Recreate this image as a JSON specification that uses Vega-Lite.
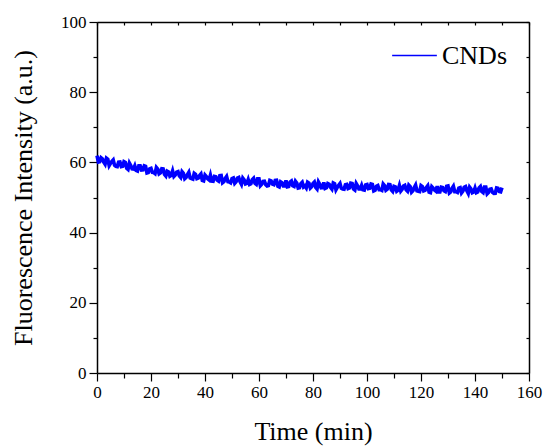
{
  "$schema": "https://vega.github.io/schema/vega-lite/v6.json",
  "width": 432,
  "height": 351,
  "autosize": "none",
  "padding": {"left": 97, "top": 22, "right": 16, "bottom": 73},
  "background": "white",
  "config": {
    "view": {"stroke": null},
    "font": "Liberation Serif"
  },
  "data": {
    "values": [
      {"t":0,"v":61.9},{"t":0.5,"v":60.1},{"t":1,"v":60.2},{"t":1.5,"v":61.3},{"t":2,"v":61.0},{"t":2.5,"v":60.1},{"t":3,"v":59.5},{"t":3.5,"v":61.2},{"t":4,"v":60.9},{"t":4.5,"v":59.1},
      {"t":5,"v":59.75},{"t":5.5,"v":60.3},{"t":6,"v":60.7},{"t":6.5,"v":59.2},{"t":7,"v":58.9},{"t":7.5,"v":58.8},{"t":8,"v":60.05},{"t":8.5,"v":60.1},{"t":9,"v":58.8},{"t":9.5,"v":58.9},
      {"t":10,"v":60.2},{"t":10.5,"v":60.0},{"t":11,"v":58.35},{"t":11.5,"v":58.0},{"t":12,"v":59.8},{"t":12.5,"v":59.1},{"t":13,"v":58.15},{"t":13.5,"v":58.1},{"t":14,"v":59.0},{"t":14.5,"v":57.7},
      {"t":15,"v":57.55},{"t":15.5,"v":59.0},{"t":16,"v":59.0},{"t":16.5,"v":57.85},{"t":17,"v":57.9},{"t":17.5,"v":59.0},{"t":18,"v":58.85},{"t":18.5,"v":57.0},{"t":19,"v":57.1},{"t":19.5,"v":58.15},
      {"t":20,"v":58.3},{"t":20.5,"v":57.15},{"t":21,"v":57.1},{"t":21.5,"v":56.8},{"t":22,"v":58.55},{"t":22.5,"v":58.1},{"t":23,"v":56.75},{"t":23.5,"v":57.0},{"t":24,"v":58.2},{"t":24.5,"v":58.15},
      {"t":25,"v":56.6},{"t":25.5,"v":56.15},{"t":26,"v":57.5},{"t":26.5,"v":57.3},{"t":27,"v":56.05},{"t":27.5,"v":56.3},{"t":28,"v":57.55},{"t":28.5,"v":56.0},{"t":29,"v":56.4},{"t":29.5,"v":57.25},
      {"t":30,"v":57.4},{"t":30.5,"v":56.15},{"t":31,"v":55.7},{"t":31.5,"v":57.35},{"t":32,"v":56.9},{"t":32.5,"v":55.35},{"t":33,"v":55.7},{"t":33.5,"v":56.55},{"t":34,"v":57.2},{"t":34.5,"v":55.55},
      {"t":35,"v":55.4},{"t":35.5,"v":55.25},{"t":36,"v":56.9},{"t":36.5,"v":56.6},{"t":37,"v":55.35},{"t":37.5,"v":55.5},{"t":38,"v":56.25},{"t":38.5,"v":56.7},{"t":39,"v":54.9},{"t":39.5,"v":54.75},
      {"t":40,"v":56.4},{"t":40.5,"v":55.95},{"t":41,"v":55.3},{"t":41.5,"v":55.0},{"t":42,"v":56.35},{"t":42.5,"v":54.7},{"t":43,"v":54.65},{"t":43.5,"v":56.0},{"t":44,"v":55.9},{"t":44.5,"v":54.95},
      {"t":45,"v":54.7},{"t":45.5,"v":56.2},{"t":46,"v":56.25},{"t":46.5,"v":54.2},{"t":47,"v":54.5},{"t":47.5,"v":55.45},{"t":48,"v":56.0},{"t":48.5,"v":54.5},{"t":49,"v":54.45},{"t":49.5,"v":54.2},
      {"t":50,"v":55.4},{"t":50.5,"v":55.55},{"t":51,"v":54.05},{"t":51.5,"v":54.5},{"t":52,"v":55.55},{"t":52.5,"v":55.7},{"t":53,"v":54.5},{"t":53.5,"v":53.75},{"t":54,"v":55.5},{"t":54.5,"v":55.0},
      {"t":55,"v":53.85},{"t":55.5,"v":54.0},{"t":56,"v":55.1},{"t":56.5,"v":53.75},{"t":57,"v":53.95},{"t":57.5,"v":55.1},{"t":58,"v":55.5},{"t":58.5,"v":54.05},{"t":59,"v":53.75},{"t":59.5,"v":55.3},
      {"t":60,"v":55.3},{"t":60.5,"v":53.35},{"t":61,"v":53.75},{"t":61.5,"v":54.6},{"t":62,"v":54.65},{"t":62.5,"v":53.65},{"t":63,"v":53.3},{"t":63.5,"v":53.4},{"t":64,"v":54.85},{"t":64.5,"v":54.7},
      {"t":65,"v":53.8},{"t":65.5,"v":53.65},{"t":66,"v":54.85},{"t":66.5,"v":54.9},{"t":67,"v":53.2},{"t":67.5,"v":53.0},{"t":68,"v":54.45},{"t":68.5,"v":54.2},{"t":69,"v":53.3},{"t":69.5,"v":53.3},
      {"t":70,"v":54.9},{"t":70.5,"v":53.05},{"t":71,"v":53.15},{"t":71.5,"v":54.4},{"t":72,"v":54.7},{"t":72.5,"v":53.35},{"t":73,"v":53.15},{"t":73.5,"v":54.6},{"t":74,"v":54.1},{"t":74.5,"v":52.7},
      {"t":75,"v":52.8},{"t":75.5,"v":53.95},{"t":76,"v":54.35},{"t":76.5,"v":53.0},{"t":77,"v":53.3},{"t":77.5,"v":52.75},{"t":78,"v":54.35},{"t":78.5,"v":54.1},{"t":79,"v":52.7},{"t":79.5,"v":53.1},
      {"t":80,"v":54.0},{"t":80.5,"v":54.4},{"t":81,"v":52.9},{"t":81.5,"v":52.45},{"t":82,"v":54.45},{"t":82.5,"v":53.75},{"t":83,"v":52.75},{"t":83.5,"v":52.8},{"t":84,"v":54.3},{"t":84.5,"v":52.6},
      {"t":85,"v":52.8},{"t":85.5,"v":53.95},{"t":86,"v":53.75},{"t":86.5,"v":52.9},{"t":87,"v":52.4},{"t":87.5,"v":54.15},{"t":88,"v":53.95},{"t":88.5,"v":52.2},{"t":89,"v":52.9},{"t":89.5,"v":53.5},
      {"t":90,"v":54.0},{"t":90.5,"v":52.6},{"t":91,"v":52.4},{"t":91.5,"v":52.35},{"t":92,"v":53.65},{"t":92.5,"v":53.75},{"t":93,"v":52.55},{"t":93.5,"v":52.7},{"t":94,"v":54.1},{"t":94.5,"v":54.0},
      {"t":95,"v":52.4},{"t":95.5,"v":52.1},{"t":96,"v":54.0},{"t":96.5,"v":53.35},{"t":97,"v":52.45},{"t":97.5,"v":52.45},{"t":98,"v":53.45},{"t":98.5,"v":52.2},{"t":99,"v":52.1},{"t":99.5,"v":53.6},
      {"t":100,"v":53.7},{"t":100.5,"v":52.55},{"t":101,"v":52.65},{"t":101.5,"v":53.85},{"t":102,"v":53.75},{"t":102.5,"v":51.9},{"t":103,"v":52.1},{"t":103.5,"v":53.2},{"t":104,"v":53.4},{"t":104.5,"v":52.25},
      {"t":105,"v":52.25},{"t":105.5,"v":52.05},{"t":106,"v":53.85},{"t":106.5,"v":53.4},{"t":107,"v":52.1},{"t":107.5,"v":52.4},{"t":108,"v":53.7},{"t":108.5,"v":53.65},{"t":109,"v":52.15},{"t":109.5,"v":51.75},
      {"t":110,"v":53.15},{"t":110.5,"v":53.0},{"t":111,"v":51.8},{"t":111.5,"v":52.1},{"t":112,"v":53.4},{"t":112.5,"v":51.85},{"t":113,"v":52.35},{"t":113.5,"v":53.25},{"t":114,"v":53.45},{"t":114.5,"v":52.2},
      {"t":115,"v":51.8},{"t":115.5,"v":53.5},{"t":116,"v":53.1},{"t":116.5,"v":51.55},{"t":117,"v":51.95},{"t":117.5,"v":52.85},{"t":118,"v":53.55},{"t":118.5,"v":51.9},{"t":119,"v":51.8},{"t":119.5,"v":51.7},
      {"t":120,"v":53.4},{"t":120.5,"v":53.1},{"t":121,"v":51.9},{"t":121.5,"v":52.05},{"t":122,"v":52.85},{"t":122.5,"v":53.35},{"t":123,"v":51.55},{"t":123.5,"v":51.4},{"t":124,"v":53.1},{"t":124.5,"v":52.7},
      {"t":125,"v":52.1},{"t":125.5,"v":51.8},{"t":126,"v":53.2},{"t":126.5,"v":51.55},{"t":127,"v":51.55},{"t":127.5,"v":52.95},{"t":128,"v":52.85},{"t":128.5,"v":51.9},{"t":129,"v":51.7},{"t":129.5,"v":53.2},
      {"t":130,"v":53.3},{"t":130.5,"v":51.3},{"t":131,"v":51.6},{"t":131.5,"v":52.6},{"t":132,"v":53.2},{"t":132.5,"v":51.65},{"t":133,"v":51.65},{"t":133.5,"v":51.45},{"t":134,"v":52.65},{"t":134.5,"v":52.8},
      {"t":135,"v":51.3},{"t":135.5,"v":51.8},{"t":136,"v":52.9},{"t":136.5,"v":53.1},{"t":137,"v":51.9},{"t":137.5,"v":51.15},{"t":138,"v":52.95},{"t":138.5,"v":52.45},{"t":139,"v":51.35},{"t":139.5,"v":51.55},
      {"t":140,"v":52.65},{"t":140.5,"v":51.35},{"t":141,"v":51.55},{"t":141.5,"v":52.7},{"t":142,"v":53.1},{"t":142.5,"v":51.7},{"t":143,"v":51.4},{"t":143.5,"v":53.0},{"t":144,"v":53.0},{"t":144.5,"v":51.05},
      {"t":145,"v":51.45},{"t":145.5,"v":52.35},{"t":146,"v":52.45},{"t":146.5,"v":51.45},{"t":147,"v":51.15},{"t":147.5,"v":51.2},{"t":148,"v":52.7},{"t":148.5,"v":52.6},{"t":149,"v":51.7},{"t":149.5,"v":51.6},
      {"t":150,"v":52.8}
    ]
  },
  "layer": [
    {
      "mark": {"type": "line", "strokeWidth": 3.6, "interpolate": "linear"},
      "encoding": {
        "x": {
          "field": "t", "type": "quantitative",
          "scale": {"domain": [0, 160], "nice": false, "zero": false},
          "axis": {
            "orient": "bottom",
            "grid": false,
            "title": "Time (min)",
            "titleFont": "Liberation Serif",
            "titleFontSize": 26,
            "titleFontWeight": "normal",
            "titleColor": "black",
            "titlePadding": 18,
            "domainColor": "black",
            "domainWidth": 1.5,
            "tickColor": "black",
            "tickWidth": 1.2,
            "values": [0,10,20,30,40,50,60,70,80,90,100,110,120,130,140,150,160],
            "labelExpr": "datum.value % 20 === 0 ? datum.label : ''",
            "tickSize": {"condition": {"test": "datum.value % 20 === 0", "value": 8}, "value": 5},
            "labelFont": "Liberation Serif",
            "labelFontSize": 17,
            "labelColor": "black",
            "labelPadding": 3,
            "labelFlush": false,
            "labelOverlap": false
          }
        },
        "y": {
          "field": "v", "type": "quantitative",
          "scale": {"domain": [0, 100], "nice": false, "zero": false},
          "axis": {
            "orient": "left",
            "grid": false,
            "title": "Fluorescence Intensity (a.u.)",
            "titleFont": "Liberation Serif",
            "titleFontSize": 26,
            "titleFontWeight": "normal",
            "titleColor": "black",
            "titlePadding": 24,
            "domainColor": "black",
            "domainWidth": 1.5,
            "tickColor": "black",
            "tickWidth": 1.2,
            "values": [0,10,20,30,40,50,60,70,80,90,100],
            "labelExpr": "datum.value % 20 === 0 ? datum.label : ''",
            "tickSize": {"condition": {"test": "datum.value % 20 === 0", "value": 8}, "value": 4},
            "labelFont": "Liberation Serif",
            "labelFontSize": 17,
            "labelColor": "black",
            "labelPadding": 3,
            "labelFlush": false,
            "labelOverlap": false
          }
        },
        "color": {
          "datum": "CNDs",
          "type": "nominal",
          "scale": {"domain": ["CNDs"], "range": ["#0000ff"]},
          "legend": {
            "title": null,
            "orient": "none",
            "legendX": 294,
            "legendY": 10,
            "symbolType": "stroke",
            "symbolSize": 2000,
            "symbolStrokeWidth": 1.5,
            "labelFont": "Liberation Serif",
            "labelFontSize": 26,
            "labelColor": "black",
            "labelOffset": 4
          }
        }
      }
    },
    {
      "mark": {"type": "line", "strokeOpacity": 0},
      "encoding": {
        "x": {
          "field": "t", "type": "quantitative",
          "axis": {
            "orient": "top",
            "grid": false,
            "title": null,
            "labels": false,
            "domainColor": "black",
            "domainWidth": 1.5,
            "tickColor": "black",
            "tickWidth": 1.2,
            "values": [0,10,20,30,40,50,60,70,80,90,100,110,120,130,140,150,160],
            "tickSize": -3
          }
        },
        "y": {
          "field": "v", "type": "quantitative",
          "axis": {
            "orient": "right",
            "grid": false,
            "title": null,
            "labels": false,
            "domainColor": "black",
            "domainWidth": 1.5,
            "tickColor": "black",
            "tickWidth": 1.2,
            "values": [0,10,20,30,40,50,60,70,80,90,100],
            "tickSize": -3
          }
        }
      }
    }
  ],
  "resolve": {"axis": {"x": "independent", "y": "independent"}}
}
